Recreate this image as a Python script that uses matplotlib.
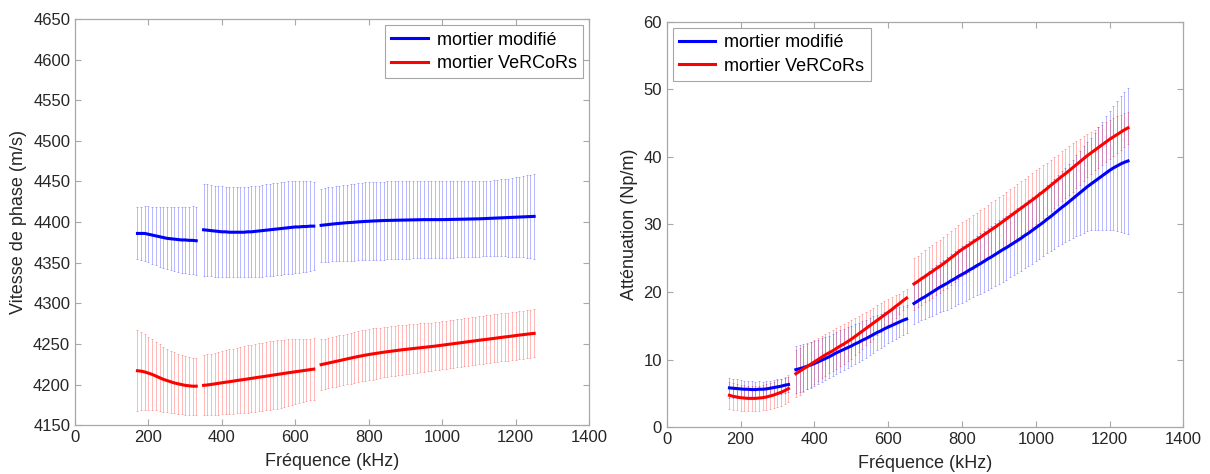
import numpy as np
import matplotlib
matplotlib.use("Agg")
import matplotlib.pyplot as plt

plt.rcParams['font.family'] = ['Liberation Sans', 'DejaVu Sans']

# frequency grids (kHz) for the three measurement bands
f1 = np.arange(170, 331, 10)
f2 = np.arange(350, 651, 10)
f3 = np.arange(670, 1251, 10)

# ---- phase velocity (m/s) ----
v_mod_1 = [4386, 4386, 4386, 4385, 4384, 4383, 4382, 4381, 4380, 4379.5, 4379, 4378.5, 4378, 4378, 4377.5, 4377.5, 4377]
v_mod_err_1 = [32, 33, 34, 34.5, 35, 36, 37, 37.5, 38, 39, 39.5, 40, 40.5, 41, 41.5, 42, 42]
v_mod_2 = [4390.5, 4390, 4389.5, 4389, 4388.5, 4388, 4388, 4387.5, 4387.5, 4387.5,
           4387.5, 4387.5, 4388, 4388, 4388.5, 4389, 4389.5, 4390, 4390.5, 4391,
           4391.5, 4392, 4392.5, 4393, 4393.5, 4394, 4394, 4394.5, 4394.5, 4395, 4395]
v_mod_err_2 = [56.5, 56.5, 56, 56, 56, 56, 55.5, 55.5, 55.5, 55.5,
               55.5, 55.5, 55.5, 56, 56, 56, 56.5, 56.5, 56.5, 57,
               57, 57, 57, 57, 57, 57, 56.5, 56, 55.5, 55, 54]
v_mod_3 = [4396, 4396.5, 4397, 4397.5, 4398, 4398.4, 4398.8, 4399.2, 4399.5, 4399.8,
           4400.2, 4400.5, 4400.8, 4401, 4401.3, 4401.5, 4401.7, 4401.9, 4402, 4402.1,
           4402.2, 4402.3, 4402.4, 4402.5, 4402.6, 4402.7, 4402.8, 4402.9, 4403, 4403,
           4403, 4403, 4403, 4403, 4403.1, 4403.2, 4403.3, 4403.4, 4403.5, 4403.6,
           4403.7, 4403.8, 4403.9, 4404, 4404.2, 4404.4, 4404.6, 4404.8, 4405, 4405.2,
           4405.4, 4405.6, 4405.8, 4406, 4406.2, 4406.4, 4406.6, 4406.8, 4407]
v_mod_err_3 = [45, 45.5, 46, 46, 46.5, 46.5, 47, 47, 47, 47.5,
               47.5, 47.5, 48, 48, 48, 48, 48, 48, 48, 48,
               48, 48, 48, 47.5, 47.5, 47.5, 47.5, 47.5, 47.5, 47.5,
               47.5, 47.5, 47.5, 47.5, 47, 47, 47, 47, 47, 47,
               46.5, 46.5, 46.5, 46.5, 46.5, 46.5, 46.5, 47, 47, 47.5,
               47.5, 48, 48.5, 49, 49.5, 50, 51, 51.5, 52]

v_ver_1 = [4217, 4216.5, 4215.5, 4214, 4212.5, 4210.5, 4208.5, 4206.5, 4205, 4203.5, 4202, 4201, 4200, 4199, 4198.5, 4198, 4198]
v_ver_err_1 = [50, 48, 46.5, 45, 43.5, 42, 41, 40, 39, 38, 37.5, 37, 36.5, 36, 35.5, 35, 35]
v_ver_2 = [4199, 4199.5, 4200.1, 4200.8, 4201.5, 4202.2, 4202.9, 4203.5, 4204.2, 4204.9,
           4205.6, 4206.2, 4206.9, 4207.6, 4208.3, 4209, 4209.6, 4210.3, 4211, 4211.7,
           4212.4, 4213.1, 4213.8, 4214.5, 4215.1, 4215.8, 4216.4, 4217.1, 4217.7, 4218.4, 4219]
v_ver_err_2 = [37, 37.5, 38, 38.5, 38.5, 39, 39.5, 40, 40, 40.5,
               41, 41, 41.5, 41.5, 42, 42, 42, 42, 42, 42,
               42, 41.5, 41.5, 41, 40.5, 40, 39.5, 39, 38.5, 38, 38]
v_ver_3 = [4224.5, 4225.5, 4226.5, 4227.5, 4228.5, 4229.5, 4230.5, 4231.5, 4232.5, 4233.5,
           4234.5, 4235.3, 4236.2, 4237, 4237.7, 4238.4, 4239.1, 4239.8, 4240.4, 4241,
           4241.6, 4242.2, 4242.8, 4243.3, 4243.8, 4244.3, 4244.8, 4245.3, 4245.8, 4246.3,
           4246.8, 4247.3, 4247.9, 4248.5, 4249.1, 4249.7, 4250.3, 4250.9, 4251.5, 4252.1,
           4252.7, 4253.3, 4253.9, 4254.5, 4255.1, 4255.6, 4256.2, 4256.8, 4257.4, 4258,
           4258.6, 4259.1, 4259.7, 4260.3, 4260.9, 4261.4, 4262, 4262.5, 4263]
v_ver_err_3 = [31, 31, 31, 31, 31, 31, 31, 31, 31.5, 31.5,
               31.5, 31.5, 31.5, 31.5, 31.5, 31, 31, 31, 31, 31,
               30.5, 30.5, 30.5, 30.5, 30.5, 30, 30, 30, 30, 30,
               29.5, 29.5, 29.5, 29.5, 29.5, 29.5, 29.5, 29.5, 29.5, 29.5,
               29.5, 29.5, 29.5, 29.5, 29.5, 29.5, 29.5, 29.5, 29.5, 29.5,
               29.5, 29.5, 29.5, 29.5, 29.5, 29.5, 29.5, 29.5, 29.5]

# ---- attenuation (Np/m) ----
a_mod_1 = [5.8, 5.75, 5.7, 5.65, 5.6, 5.6, 5.55, 5.55, 5.6, 5.6, 5.65, 5.75, 5.85, 5.95, 6.05, 6.2, 6.3]
a_mod_err_1 = [1.45, 1.4, 1.35, 1.3, 1.25, 1.2, 1.2, 1.15, 1.15, 1.1, 1.1, 1.1, 1.1, 1.1, 1.1, 1.1, 1.1]
a_mod_2 = [8.5, 8.65, 8.8, 9.0, 9.2, 9.4, 9.65, 9.9, 10.15, 10.4,
           10.7, 11.0, 11.25, 11.5, 11.75, 12.0, 12.3, 12.55, 12.85, 13.1,
           13.4, 13.7, 14.0, 14.25, 14.55, 14.8, 15.05, 15.3, 15.55, 15.8, 16.0]
a_mod_err_2 = [3.5, 3.5, 3.45, 3.4, 3.35, 3.3, 3.3, 3.25, 3.2, 3.15,
               3.1, 3.1, 3.05, 3.05, 3.0, 3.0, 2.95, 2.9, 2.85, 2.8,
               2.75, 2.7, 2.6, 2.55, 2.5, 2.4, 2.35, 2.3, 2.2, 2.1, 2.0]
a_mod_3 = [18.3, 18.65, 19.0, 19.3, 19.65, 20.0, 20.35, 20.7, 21.0, 21.3,
           21.65, 21.95, 22.3, 22.6, 22.9, 23.25, 23.55, 23.9, 24.2, 24.55,
           24.9, 25.2, 25.55, 25.9, 26.25, 26.55, 26.9, 27.25, 27.6, 27.95,
           28.35, 28.7, 29.1, 29.5, 29.9, 30.3, 30.75, 31.15, 31.6, 32.05,
           32.5, 32.9, 33.35, 33.8, 34.25, 34.7, 35.15, 35.6, 36.0, 36.4,
           36.8, 37.2, 37.6, 38.0, 38.35, 38.65, 38.95, 39.2, 39.4]
a_mod_err_3 = [3.0, 3.1, 3.2, 3.3, 3.4, 3.5, 3.6, 3.7, 3.8, 3.9,
               4.0, 4.05, 4.1, 4.2, 4.25, 4.3, 4.35, 4.4, 4.5, 4.55,
               4.6, 4.6, 4.65, 4.7, 4.7, 4.75, 4.75, 4.8, 4.8, 4.8,
               4.85, 4.85, 4.9, 4.9, 4.95, 5.0, 5.05, 5.1, 5.2, 5.3,
               5.4, 5.5, 5.65, 5.8, 6.0, 6.2, 6.4, 6.6, 6.8, 7.2,
               7.6, 8.0, 8.4, 8.8, 9.2, 9.6, 10.0, 10.4, 10.8]

a_ver_1 = [4.7, 4.55, 4.45, 4.35, 4.3, 4.25, 4.25, 4.25, 4.3, 4.35, 4.45, 4.6, 4.75, 4.95, 5.15, 5.4, 5.7]
a_ver_err_1 = [2.0, 2.0, 1.95, 1.9, 1.9, 1.85, 1.85, 1.85, 1.85, 1.85, 1.9, 1.9, 1.95, 2.0, 2.0, 2.0, 2.0]
a_ver_2 = [7.9, 8.25, 8.6, 8.95, 9.3, 9.65, 10.0, 10.35, 10.7, 11.0,
           11.3, 11.65, 12.0, 12.3, 12.65, 13.0, 13.4, 13.8, 14.2, 14.6,
           15.0, 15.4, 15.8, 16.2, 16.6, 17.0, 17.4, 17.85, 18.25, 18.7, 19.1]
a_ver_err_2 = [3.5, 3.45, 3.4, 3.35, 3.3, 3.25, 3.2, 3.15, 3.1, 3.05,
               3.0, 3.0, 2.95, 2.95, 2.9, 2.9, 2.8, 2.7, 2.6, 2.5,
               2.4, 2.3, 2.2, 2.1, 2.0, 1.9, 1.8, 1.65, 1.5, 1.4, 1.3]
a_ver_3 = [21.2, 21.55, 21.95, 22.3, 22.7, 23.05, 23.45, 23.8, 24.2, 24.6,
           25.05, 25.45, 25.9, 26.3, 26.65, 27.0, 27.4, 27.75, 28.1, 28.5,
           28.85, 29.25, 29.6, 30.0, 30.4, 30.8, 31.2, 31.6, 32.0, 32.4,
           32.8, 33.2, 33.6, 34.0, 34.45, 34.85, 35.3, 35.75, 36.2, 36.65,
           37.1, 37.5, 37.95, 38.4, 38.85, 39.3, 39.75, 40.2, 40.6, 41.0,
           41.4, 41.8, 42.2, 42.6, 42.95, 43.3, 43.65, 44.0, 44.3]
a_ver_err_3 = [3.8, 3.8, 3.85, 3.85, 3.9, 3.9, 3.9, 3.95, 3.95, 3.95,
               4.0, 4.0, 4.0, 4.0, 4.0, 4.0, 4.0, 4.0, 4.0, 4.0,
               4.0, 4.0, 4.0, 4.0, 4.0, 4.0, 4.0, 4.0, 4.0, 4.0,
               4.0, 4.0, 4.0, 4.0, 3.95, 3.9, 3.85, 3.8, 3.75, 3.7,
               3.7, 3.65, 3.6, 3.6, 3.5, 3.4, 3.3, 3.2, 3.1, 3.0,
               3.0, 2.95, 2.9, 2.9, 2.8, 2.7, 2.6, 2.5, 2.4]

labels = ['mortier modifié', 'mortier VeRCoRs']
colors = ['#0000ff', '#ff0000']
freqs = [f1, f2, f3]


def draw(ax, means, errs, color, label):
    for i, (f, m, e) in enumerate(zip(freqs, means, errs)):
        ax.errorbar(f, m, yerr=e, fmt='none', ecolor=color, elinewidth=0.6,
                    capsize=0.8, capthick=0.6, alpha=0.33, zorder=2)
        ax.plot(f, m, color=color, lw=2.2, zorder=3,
                label=label if i == 0 else None)


def style(ax):
    for s in ax.spines.values():
        s.set_color('#a8a8a8')
        s.set_linewidth(0.9)
    ax.tick_params(direction='in', top=True, right=True, length=4,
                   color='#a8a8a8', labelsize=12, labelcolor='#262626')
    ax.set_xlim(0, 1400)
    ax.set_xticks(np.arange(0, 1401, 200))
    ax.set_xlabel('Fréquence (kHz)', fontsize=13, color='#262626', labelpad=6)


fig = plt.figure(figsize=(12.1, 4.74), dpi=100)
ax1 = fig.add_axes([0.062, 0.103, 0.425, 0.857])
ax2 = fig.add_axes([0.551, 0.099, 0.427, 0.855])

# left: phase velocity
draw(ax1, [v_mod_1, v_mod_2, v_mod_3], [v_mod_err_1, v_mod_err_2, v_mod_err_3], colors[0], labels[0])
draw(ax1, [v_ver_1, v_ver_2, v_ver_3], [v_ver_err_1, v_ver_err_2, v_ver_err_3], colors[1], labels[1])
style(ax1)
ax1.set_ylim(4150, 4650)
ax1.set_yticks(np.arange(4150, 4651, 50))
ax1.set_ylabel('Vitesse de phase (m/s)', fontsize=13, color='#262626', labelpad=4)
leg1 = ax1.legend(loc='upper right', fontsize=13, fancybox=False, borderaxespad=0.35,
                  handlelength=2.0, handletextpad=0.5, borderpad=0.35, labelspacing=0.35)
leg1.get_frame().set_edgecolor('#909090')
leg1.get_frame().set_linewidth(0.8)

# right: attenuation
draw(ax2, [a_mod_1, a_mod_2, a_mod_3], [a_mod_err_1, a_mod_err_2, a_mod_err_3], colors[0], labels[0])
draw(ax2, [a_ver_1, a_ver_2, a_ver_3], [a_ver_err_1, a_ver_err_2, a_ver_err_3], colors[1], labels[1])
style(ax2)
ax2.set_ylim(0, 60)
ax2.set_yticks(np.arange(0, 61, 10))
ax2.set_ylabel('Atténuation (Np/m)', fontsize=13, color='#262626', labelpad=4)
leg2 = ax2.legend(loc='upper left', fontsize=13, fancybox=False, borderaxespad=0.35,
                  handlelength=2.0, handletextpad=0.5, borderpad=0.35, labelspacing=0.35)
leg2.get_frame().set_edgecolor('#909090')
leg2.get_frame().set_linewidth(0.8)

fig.savefig('out.png', dpi=100)
